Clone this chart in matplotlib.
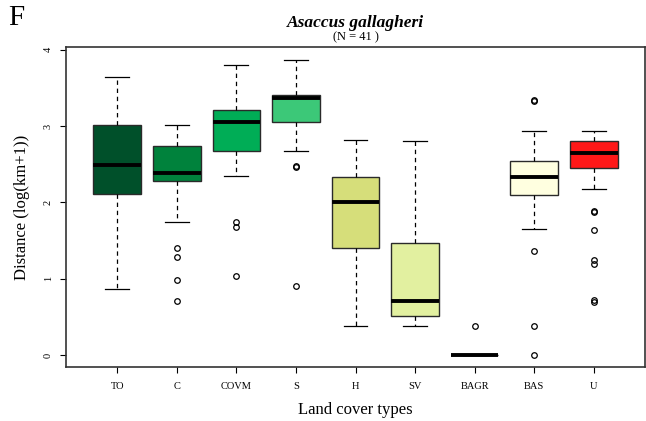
import matplotlib.pyplot as plt

plt.rcParams['font.family'] = ['Liberation Serif', 'DejaVu Serif']

# land cover categories and box statistics
categories = ['TO', 'C', 'COVM', 'S', 'H', 'SV', 'BAGR', 'BAS', 'U']
whislo = [0.87, 1.74, 2.35, 2.68, 0.38, 0.38, 0.00, 1.65, 2.17]
q1     = [2.11, 2.28, 2.68, 3.06, 1.40, 0.51, 0.00, 2.10, 2.45]
med    = [2.49, 2.39, 3.05, 3.37, 2.00, 0.71, 0.00, 2.33, 2.65]
q3     = [3.02, 2.745, 3.21, 3.41, 2.34, 1.47, 0.00, 2.54, 2.81]
whishi = [3.64, 3.01, 3.80, 3.87, 2.82, 2.80, 0.00, 2.93, 2.94]
fliers = [
    [],
    [1.40, 1.28, 0.98, 0.71],
    [1.74, 1.68, 1.04],
    [2.46, 2.48, 0.90],
    [],
    [],
    [0.38],
    [3.33, 3.34, 1.37, 0.38, 0.00],
    [1.87, 1.89, 1.64, 1.25, 1.20, 0.70, 0.72],
]
colors = ['#00502A', '#00823C', '#00AD56', '#3CC878', '#D6DE7A',
          '#E2F0A0', '#FFFFFF', '#FFFFE0', '#FF1818']

stats = []
for i, name in enumerate(categories):
    stats.append(dict(label=name, whislo=whislo[i], q1=q1[i], med=med[i],
                      q3=q3[i], whishi=whishi[i], fliers=fliers[i]))

fig = plt.figure(figsize=(6.46, 4.21), dpi=100)
ax = fig.add_axes([0.1022, 0.1283, 0.8963, 0.7589])

bp = ax.bxp(stats, positions=range(1, 10), widths=0.8, patch_artist=True,
            boxprops=dict(edgecolor='#2a2a2a', linewidth=1.0),
            medianprops=dict(color='black', linewidth=2.8, solid_capstyle='butt'),
            whiskerprops=dict(color='black', linestyle=(0, (3.5, 3)), linewidth=0.9),
            capprops=dict(color='black', linewidth=0.9),
            capwidths=0.4,
            flierprops=dict(marker='o', markersize=4, markerfacecolor='none',
                            markeredgecolor='black', markeredgewidth=0.9))
for patch, c in zip(bp['boxes'], colors):
    patch.set_facecolor(c)

ax.set_xlim(0.14, 9.86)
ax.set_ylim(-0.155, 4.03)
ax.set_yticks([0, 1, 2, 3, 4])
ax.set_xticks(range(1, 10))
ax.set_xticklabels(categories)
ax.tick_params(axis='x', labelsize=7.5, length=4.5, pad=6)
ax.tick_params(axis='y', labelsize=7.5, length=4.5, pad=5)
for lab in ax.get_yticklabels():
    lab.set_rotation(90)
    lab.set_va('center')
for s in ax.spines.values():
    s.set_linewidth(1.2)
    s.set_color('#333333')

ax.set_xlabel('Land cover types', fontsize=12, labelpad=8)
ax.set_ylabel('Distance (log(km+1))', fontsize=12, labelpad=10)

fig.text(0.5503, 0.946, 'Asaccus gallagheri', ha='center', va='center',
         fontsize=12.5, fontweight='bold', fontstyle='italic')
fig.text(0.5503, 0.912, '(N = 41 )', ha='center', va='center', fontsize=9)
fig.text(0.012, 0.958, 'F', ha='left', va='center', fontsize=21)

fig.savefig('out.png', dpi=100)
